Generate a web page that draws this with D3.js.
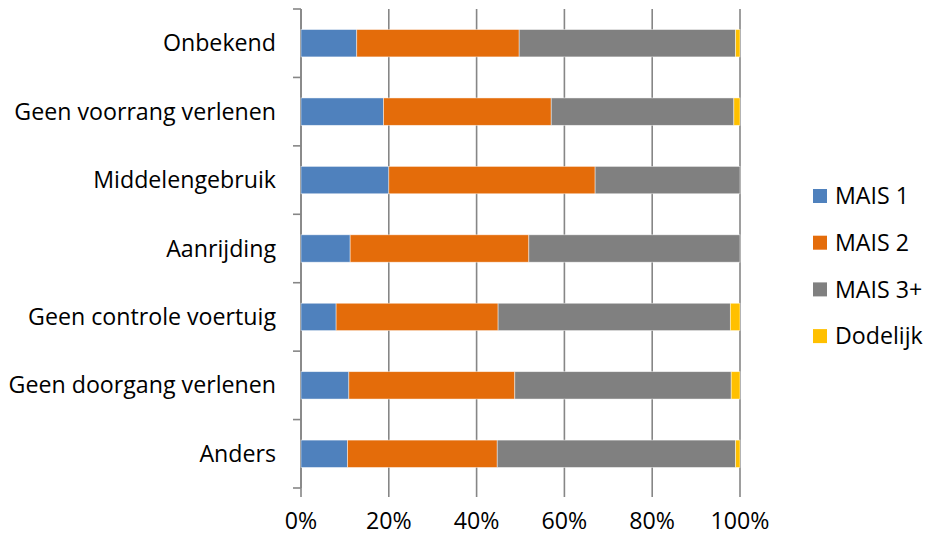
<!DOCTYPE html>
<html>
<head>
<meta charset="utf-8">
<script src="https://cdn.jsdelivr.net/npm/d3@7/dist/d3.min.js"></script>
<style>
  body { margin: 0; background: #fff; }
  svg text { font-family: "Open Sans", Lato, sans-serif; fill: #000; }
</style>
</head>
<body>
<svg id="chart" width="925" height="536"></svg>
<script>
// Share of injury severity per cause category (percent)
const categories = ["Onbekend", "Geen voorrang verlenen", "Middelengebruik", "Aanrijding",
                    "Geen controle voertuig", "Geen doorgang verlenen", "Anders"];
const seriesNames = ["MAIS 1", "MAIS 2", "MAIS 3+", "Dodelijk"];
const mais1    = [12.7, 18.8, 20.0, 11.2,  8.0, 10.9, 10.6];
const mais2    = [37.0, 38.2, 47.0, 40.7, 36.9, 37.8, 34.1];
const mais3    = [49.3, 41.6, 33.0, 48.1, 52.9, 49.3, 54.3];
const dodelijk = [ 1.0,  1.4,  0.0,  0.0,  2.2,  2.0,  1.0];
const xTicks = [0, 20, 40, 60, 80, 100];
const colors = ["#4F81BD", "#E46C0A", "#808080", "#FFC000"];

const rows = categories.map((c, i) => ({
  cat: c, "MAIS 1": mais1[i], "MAIS 2": mais2[i], "MAIS 3+": mais3[i], "Dodelijk": dodelijk[i]
}));

const svg = d3.select("#chart");
const plotLeft = 301, plotRight = 740, plotTop = 9, plotBottom = 488;
const fontSize = 23.2;

const x = d3.scaleLinear().domain([0, 100]).range([plotLeft, plotRight]);
const y = d3.scaleBand().domain(categories).range([plotTop, plotBottom]).paddingInner(0.6).paddingOuter(0.3);
const color = d3.scaleOrdinal().domain(seriesNames).range(colors);

// vertical gridlines, extending below the plot as tick marks
svg.append("g").selectAll("line").data(xTicks).join("line")
  .attr("x1", d => x(d)).attr("x2", d => x(d))
  .attr("y1", plotTop).attr("y2", plotBottom + 9)
  .attr("stroke", "#868686").attr("stroke-width", 1.6);

// category axis with outward tick marks on band boundaries
svg.append("line").attr("x1", plotLeft).attr("x2", plotLeft).attr("y1", plotTop).attr("y2", plotBottom)
  .attr("stroke", "#868686").attr("stroke-width", 1.6);
const bounds = d3.range(categories.length + 1)
  .map(i => plotTop + i * (plotBottom - plotTop) / categories.length);
svg.append("g").selectAll("line").data(bounds).join("line")
  .attr("x1", plotLeft - 8).attr("x2", plotLeft).attr("y1", d => d).attr("y2", d => d)
  .attr("stroke", "#868686").attr("stroke-width", 1.6);

// stacked bars
const stack = d3.stack().keys(seriesNames)(rows);
svg.append("g").selectAll("g").data(stack).join("g")
  .attr("fill", d => color(d.key))
  .selectAll("rect").data(d => d.filter(p => p[1] - p[0] > 0)).join("rect")
  .attr("x", d => x(d[0]))
  .attr("width", d => x(d[1]) - x(d[0]))
  .attr("y", d => y(d.data.cat))
  .attr("height", y.bandwidth())
  .attr("stroke", "#ffffff").attr("stroke-opacity", 0.6).attr("stroke-width", 0.75);

// category labels
svg.append("g").selectAll("text").data(categories).join("text")
  .attr("x", 276).attr("y", d => y(d) + y.bandwidth() / 2)
  .attr("dy", "0.35em").attr("text-anchor", "end")
  .attr("font-size", fontSize).text(d => d);

// percentage tick labels
svg.append("g").selectAll("text").data(xTicks).join("text")
  .attr("x", d => x(d)).attr("y", 529)
  .attr("text-anchor", "middle").attr("font-size", fontSize)
  .text(d => d + "%");

// legend
const lg = svg.append("g").selectAll("g").data(seriesNames).join("g")
  .attr("transform", (d, i) => `translate(813, ${196 + i * 46.7})`);
lg.append("rect").attr("x", 0).attr("y", -7).attr("width", 14).attr("height", 14)
  .attr("fill", d => color(d));
lg.append("text").attr("x", 22).attr("dy", "0.36em").attr("font-size", fontSize).text(d => d);
</script>
</body>
</html>
